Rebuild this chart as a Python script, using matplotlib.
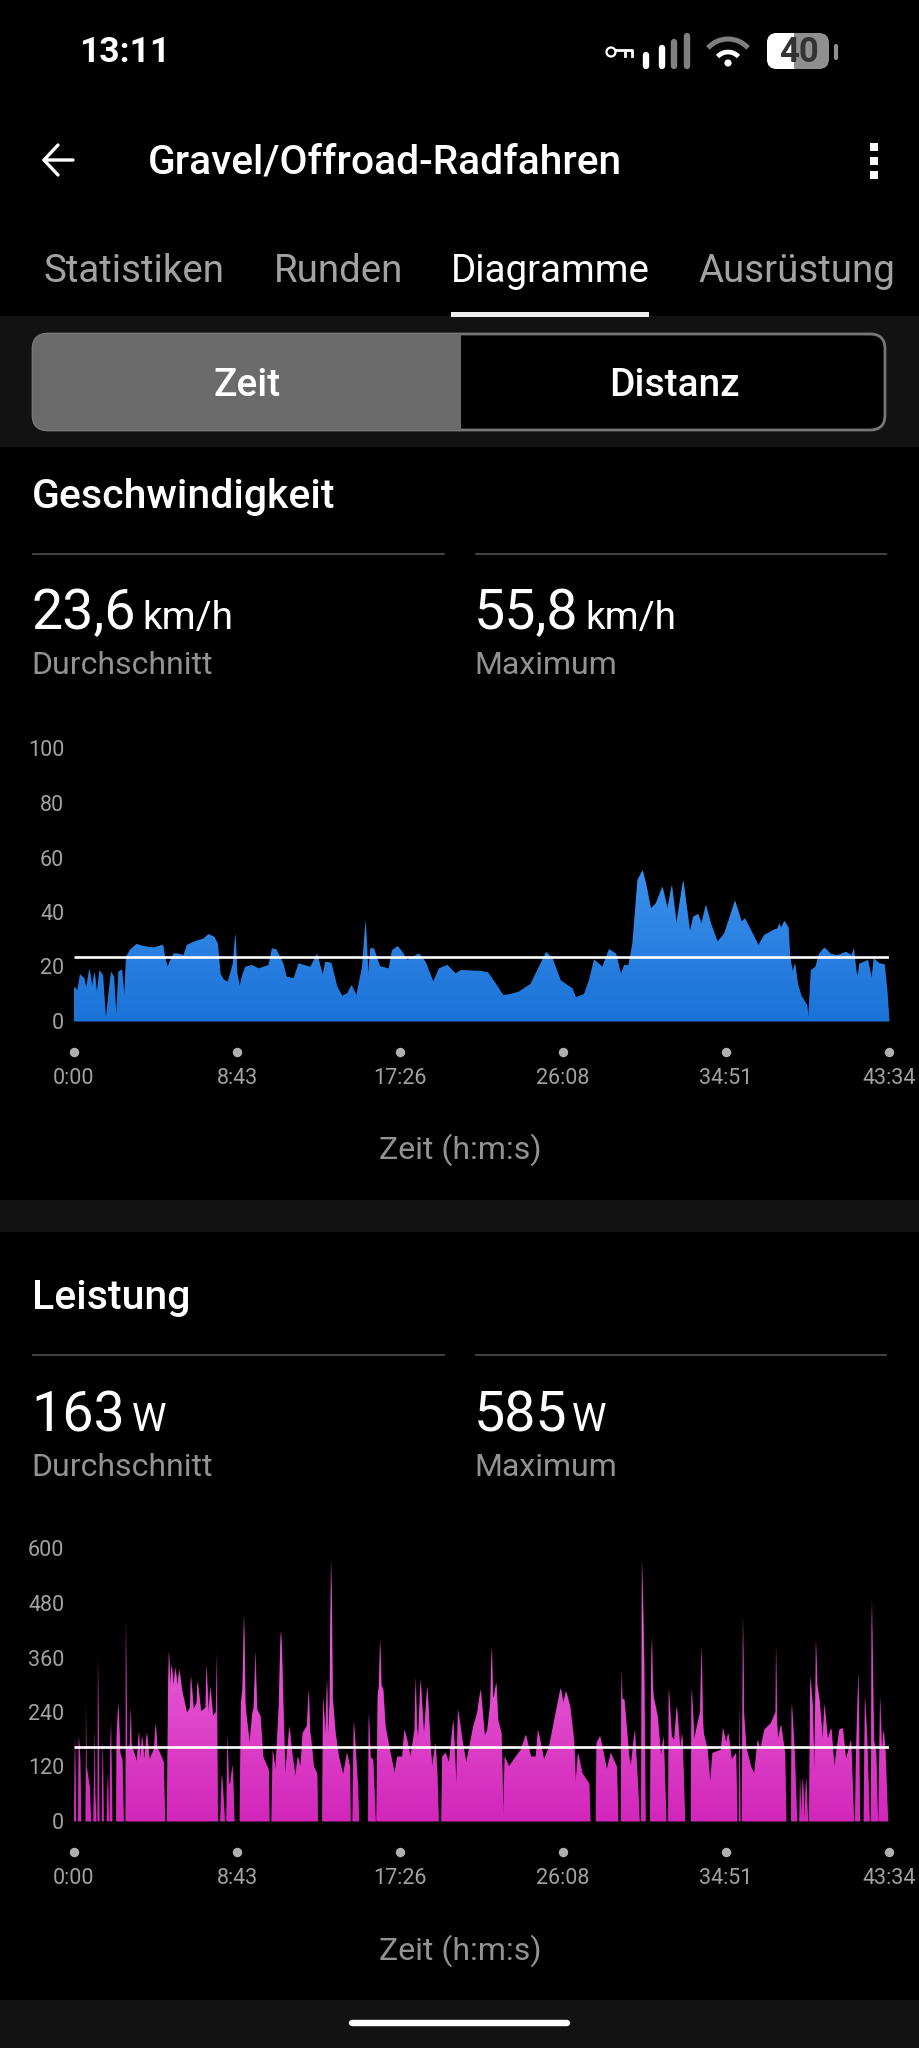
import numpy as np
import matplotlib
matplotlib.use("Agg")
import matplotlib.pyplot as plt
from matplotlib.colors import LinearSegmentedColormap
from matplotlib.patches import FancyBboxPatch, Rectangle, Arc, Circle

plt.rcParams['font.family'] = ['Roboto', 'DejaVu Sans']

# (minutes, km/h)
speed_points = [
    (0, 12.6), (.18, 11.4), (.32, 17.2), (.54, 15.7), (.64, 12), (.82, 19.3), (.96, 12.6), (1.09, 18.1),
    (1.21, 10.2), (1.36, 18.7), (1.53, 16.9), (1.69, .4), (1.84, 10.2), (1.98, 18.1), (2.12, 16.3), (2.25, 1.6),
    (2.37, 18.1), (2.55, 19), (2.68, 8.9), (2.78, 23.6), (3.0, 26.3), (3.35, 28.3), (3.71, 27.5), (4.25, 27),
    (4.75, 28), (4.85, 23.6), (5.0, 19.9), (5.14, 22.4), (5.32, 24.8), (5.53, 24.8), (5.85, 24.2), (6.03, 27.9),
    (6.39, 29.1), (6.92, 30.3), (7.19, 31.9), (7.49, 30.9), (7.67, 28.5), (7.81, 17.5), (7.99, 15.3), (8.21, 14.4),
    (8.35, 17.5), (8.49, 21.2), (8.62, 32.2), (8.71, 17.5), (8.85, 12.8), (8.99, 16.9), (9.15, 19.9), (9.51, 20.6),
    (9.87, 19.3), (10.4, 20.6), (10.58, 26.7), (10.81, 26.3), (11.17, 21.2), (11.35, 16.3), (11.74, 15.7),
    (12.0, 21.2), (12.63, 19.9), (12.99, 24.6), (13.29, 16.9), (13.43, 21.8), (13.74, 21.4), (14.06, 12.6),
    (14.33, 9.2), (14.6, 10.2), (14.83, 13.2), (15.09, 9.5), (15.4, 19.9), (15.58, 37.1), (15.72, 16.9),
    (15.84, 26.7), (16.02, 26.7), (16.34, 20.2), (16.82, 19.3), (17.0, 26), (17.3, 27.5), (17.54, 25.4),
    (17.81, 22.4), (18.43, 24.8), (18.78, 21.8), (19.2, 14.4), (19.5, 19.3), (19.95, 20.6), (20.39, 17.5),
    (20.7, 18.7), (21.37, 18.5), (21.73, 18.4), (22.12, 17.9), (22.53, 13.8), (22.94, 9.5), (23.33, 9.9),
    (23.78, 10.8), (24.4, 13.6), (24.85, 19.9), (25.24, 25.4), (25.57, 23), (26.0, 15), (26.64, 12), (26.82, 8.7),
    (27.26, 9.9), (27.53, 15), (27.8, 22.6), (28.24, 19.9), (28.6, 26.4), (28.96, 24.8), (29.23, 17.2),
    (29.41, 20.6), (29.64, 20.6), (29.85, 28.5), (30.12, 51.7), (30.39, 55.4), (30.57, 50.5), (30.83, 41.3),
    (31.1, 43.2), (31.45, 49.3), (31.72, 41.3), (31.95, 49.9), (32.2, 35.8), (32.56, 51.7), (32.92, 32.8),
    (33.1, 38.3), (33.36, 39.3), (33.54, 35.8), (33.77, 42.6), (34.04, 35.8), (34.4, 29.1), (34.76, 32.2),
    (35.33, 44.2), (35.68, 36.5), (35.86, 37.7), (36.27, 32.2), (36.58, 27.9), (36.9, 31.6), (37.43, 33.6),
    (37.6, 34), (37.7, 35.8), (37.8, 34.2), (37.97, 36.8), (38.18, 34.4), (38.27, 23.6), (38.41, 18.1),
    (38.54, 21.2), (38.68, 13.8), (38.86, 9.5), (39.18, 5.9), (39.25, 1), (39.39, 18.7), (39.63, 19.9),
    (39.84, 24.8), (40.11, 27), (40.47, 24.6), (40.82, 24.2), (41.27, 25.4), (41.57, 24.2), (41.68, 26.7),
    (41.8, 18.7), (41.89, 16.3), (41.98, 21), (42.43, 22.4), (42.64, 15.7), (42.75, 23), (43.05, 21.2),
    (43.32, 20.9), (43.46, 11.4), (43.57, 0),
]

# (minutes, watts), the zeros are the coasting gaps
power_points = [
    (0, 0), (.04, 187), (.09, 0), (.21, 0), (.25, 187), (.32, 135), (.36, 0), (.61, 0), (.63, 120), (.64, 260),
    (.66, 120), (.82, 76), (.89, 0), (1.03, 0), (1.07, 110), (1.09, 201), (1.12, 60), (1.18, 0), (1.25, 0),
    (1.28, 360), (1.34, 0), (1.48, 0), (1.52, 183), (1.57, 0), (1.75, 0), (1.8, 110), (1.84, 0), (1.89, 0),
    (1.96, 220), (2.03, 0), (2.25, 0), (2.27, 179), (2.36, 260), (2.46, 150), (2.57, 135), (2.64, 0), (2.75, 0),
    (2.77, 445), (2.82, 164), (2.93, 157), (2.98, 170), (3.02, 253), (3.06, 170), (3.27, 142), (3.35, 131),
    (3.46, 198), (3.53, 135), (3.64, 187), (3.75, 135), (3.89, 194), (4.03, 135), (4.28, 160), (4.35, 216),
    (4.45, 160), (4.51, 157), (4.78, 131), (4.85, 0), (4.96, 0), (5.03, 297), (5.07, 375), (5.14, 297), (5.21, 345),
    (5.32, 297), (5.41, 338), (5.53, 297), (5.62, 334), (5.76, 290), (6.03, 238), (6.2, 250), (6.24, 319), (6.39, 246),
    (6.55, 260), (6.6, 308), (6.78, 242), (6.92, 246), (7.03, 250), (7.07, 343), (7.19, 235), (7.28, 297), (7.42, 231),
    (7.58, 240), (7.62, 371), (7.67, 0), (7.81, 0), (7.9, 105), (8.05, 0), (8.14, 0), (8.19, 190), (8.26, 83), (8.35, 83),
    (8.47, 124), (8.56, 0), (8.85, 0), (8.92, 260), (9.0, 290), (9.05, 380), (9.08, 456), (9.11, 380), (9.15, 260),
    (9.21, 231), (9.38, 172), (9.53, 238), (9.6, 250), (9.66, 320), (9.69, 375), (9.72, 320), (9.78, 246), (9.96, 231),
    (10.1, 142), (10.4, 113), (10.43, 0), (10.55, 0), (10.62, 157), (10.76, 113), (10.87, 194), (10.95, 260), (11.0, 350),
    (11.05, 419), (11.1, 380), (11.18, 253), (11.28, 102), (11.51, 209), (11.65, 150), (11.83, 98), (11.95, 142),
    (12.1, 120), (12.22, 194), (12.45, 210), (12.54, 290), (12.6, 200), (12.67, 179), (12.81, 120), (12.99, 105),
    (13.02, 0), (13.26, 0), (13.31, 275), (13.43, 187), (13.52, 312), (13.57, 180), (13.66, 260), (13.7, 430),
    (13.74, 577), (13.78, 430), (13.82, 270), (13.97, 194), (14.15, 142), (14.38, 102), (14.59, 150), (14.74, 120),
    (14.77, 0), (14.88, 0), (14.95, 220), (15.04, 164), (15.17, 72), (15.22, 0), (15.72, 0), (15.75, 238), (15.84, 142),
    (15.98, 135), (16.11, 0), (16.16, 0), (16.23, 275), (16.3, 300), (16.36, 400), (16.42, 300), (16.52, 290),
    (16.64, 209), (16.91, 150), (17.13, 105), (17.27, 142), (17.54, 142), (17.66, 201), (17.8, 179), (17.98, 142),
    (18.2, 200), (18.25, 316), (18.32, 210), (18.39, 179), (18.52, 312), (18.7, 187), (18.88, 297), (19.05, 164),
    (19.14, 120), (19.32, 172), (19.41, 105), (19.48, 0), (19.63, 0), (19.68, 142), (19.86, 150), (20.04, 128),
    (20.27, 223), (20.43, 76), (20.52, 246), (20.75, 179), (20.96, 128), (21.34, 209), (21.55, 238), (21.73, 290),
    (21.95, 187), (22.09, 201), (22.25, 260), (22.32, 386), (22.39, 270), (22.45, 275), (22.57, 305), (22.66, 223),
    (22.84, 194), (22.94, 10), (23.02, 142), (23.25, 120), (23.61, 142), (23.88, 157), (24.15, 190), (24.42, 142),
    (24.68, 142), (24.8, 201), (25.12, 135), (25.39, 164), (26.01, 293), (26.15, 260), (26.3, 286), (26.51, 253),
    (26.72, 179), (26.81, 83), (26.94, 150), (27.17, 105), (27.53, 83), (27.59, 0), (27.89, 0), (27.93, 172), (28.12, 187),
    (28.48, 113), (28.69, 150), (29.01, 120), (29.08, 0), (29.23, 0), (29.26, 334), (29.3, 270), (29.41, 268), (29.67, 142),
    (29.76, 120), (29.97, 201), (30.15, 69), (30.22, 0), (30.31, 0), (30.36, 577), (30.47, 349), (30.54, 0), (30.79, 0),
    (30.84, 280), (30.88, 408), (30.93, 300), (30.97, 275), (31.19, 231), (31.37, 142), (31.51, 187), (31.65, 0),
    (31.76, 0), (31.79, 293), (31.94, 187), (32.08, 179), (32.22, 253), (32.4, 157), (32.51, 194), (32.65, 0), (32.97, 0),
    (33.01, 293), (33.15, 179), (33.33, 216), (33.47, 240), (33.54, 386), (33.6, 230), (33.65, 194), (33.86, 157),
    (34.0, 83), (34.13, 150), (34.58, 157), (34.69, 205), (34.85, 172), (34.97, 194), (35.15, 135), (35.38, 150),
    (35.44, 0), (35.54, 0), (35.56, 260), (35.61, 0), (35.7, 0), (35.73, 250), (35.76, 456), (35.8, 240), (35.92, 164),
    (36.18, 120), (36.36, 105), (36.54, 179), (36.68, 157), (36.9, 201), (37.26, 216), (37.5, 240), (37.53, 386),
    (37.57, 220), (37.62, 179), (37.79, 212), (38.0, 150), (38.06, 0), (38.33, 0), (38.36, 260), (38.5, 164), (38.64, 0),
    (38.77, 0), (38.81, 98), (38.86, 0), (38.95, 98), (39.04, 0), (39.13, 98), (39.22, 0), (39.29, 0), (39.36, 319),
    (39.48, 253), (39.57, 105), (39.63, 280), (39.66, 400), (39.72, 300), (39.84, 268), (40.02, 179), (40.11, 257),
    (40.29, 179), (40.47, 205), (40.64, 120), (40.91, 201), (41.09, 205), (41.26, 135), (41.53, 179), (41.68, 0),
    (41.75, 0), (41.8, 150), (41.93, 327), (42.0, 0), (42.21, 0), (42.28, 275), (42.39, 179), (42.52, 0), (42.6, 0),
    (42.64, 489), (42.75, 179), (42.87, 150), (42.96, 0), (43.0, 0), (43.09, 275), (43.18, 150), (43.28, 201), (43.37, 150),
    (43.5, 0), (43.55, 0),
]

speed_avg = 23.6
power_avg = 163
speed_ticks = [0, 20, 40, 60, 80, 100]
power_ticks = [0, 120, 240, 360, 480, 600]
time_ticks_s = [0, 523, 1046, 1568, 2091, 2614]
time_labels = ['0:00', '8:43', '17:26', '26:08', '34:51', '43:34']

W, H = 920, 2048
GREY = '#a2a2a2'
DIM = '#929292'
PANEL = '#121212'

fig = plt.figure(figsize=(W / 100, H / 100), dpi=100, facecolor='black')
ui = fig.add_axes([0, 0, 1, 1])
ui.set_xlim(0, W)
ui.set_ylim(H, 0)
ui.axis('off')


def label(x, y, s, size, color='white', weight='normal', ha='left', va='center', **kw):
    return ui.text(x, y, s, fontsize=size, color=color, fontweight=weight, ha=ha, va=va, **kw)


# background bands
ui.add_patch(Rectangle((0, 316), W, 131, color=PANEL, lw=0))
ui.add_patch(Rectangle((0, 1200), W, 32, color=PANEL, lw=0))
ui.add_patch(Rectangle((0, 2000), W, 48, color=PANEL, lw=0))

# status bar
label(79, 52, '13:11', 25.5, weight='bold')
ui.add_patch(Circle((611, 52), 4.5, fill=False, ec='white', lw=1.6))
ui.plot([616, 632, 632], [50, 50, 56], color='white', lw=2)
ui.plot([625, 625], [50, 56], color='white', lw=2)
for x, top, col in [(646, 55, 'white'), (662, 48, 'white'), (674, 42, '#808080'), (687, 36, '#808080')]:
    ui.plot([x, x], [top, 66], color=col, lw=4.6, solid_capstyle='round')
ui.add_patch(Circle((728, 63), 3.6, color='white', lw=0))
ui.add_patch(Arc((728, 66), 28, 28, theta1=222, theta2=318, color='white', lw=3.4))
ui.add_patch(Arc((728, 66), 54, 54, theta1=222, theta2=318, color='#808080', lw=3.6))
batt = FancyBboxPatch((767, 33), 62, 36, boxstyle='round,pad=0,rounding_size=10', fc='#8f8f8f', lw=0)
ui.add_patch(batt)
white_part = Rectangle((767, 33), 27, 36, color='white', lw=0)
ui.add_patch(white_part)
white_part.set_clip_path(batt)
ui.plot([836.5, 836.5], [46, 58], color='#8f8f8f', lw=3, solid_capstyle='round')
label(799, 52, '40', 25, color='#333333', weight='bold', ha='center')

# header
ui.plot([73, 44, 58], [160, 160, 145], color='white', lw=2.4, solid_capstyle='round')
ui.plot([44, 58], [160, 175], color='white', lw=2.4, solid_capstyle='round')
for y in [147, 161, 175]:
    ui.add_patch(Rectangle((870, y - 4), 8, 8, color='white', lw=0))
label(148, 163, 'Gravel/Offroad-Radfahren', 29.3, weight='medium')
label(44, 271, 'Statistiken', 27.7, color=GREY)
label(274, 271, 'Runden', 27.7, color=GREY)
label(451, 271, 'Diagramme', 27.7)
label(699, 271, 'Ausrüstung', 27.7, color=GREY)
ui.add_patch(Rectangle((451, 312), 198, 4.5, color='#eeeeee', lw=0))

# Zeit / Distanz toggle
box = FancyBboxPatch((33, 334), 852, 96, boxstyle='round,pad=0,rounding_size=15', fc='black', ec='#777777', lw=2)
ui.add_patch(box)
left = Rectangle((33, 334), 428, 96, color='#6b6b6b', lw=0)
ui.add_patch(left)
left.set_clip_path(box)
label(247, 385, 'Zeit', 28, weight='medium', ha='center')
label(674, 385, 'Distanz', 28, weight='medium', ha='center')


def header(title, title_y, line_y, val_y, sub_y, val1, unit1, unit1_x, val2, unit2, unit2_x):
    label(32, title_y, title, 29.5, weight='medium')
    ui.plot([33, 444], [line_y, line_y], color='#4a4a4a', lw=1.3)
    ui.plot([476, 886], [line_y, line_y], color='#4a4a4a', lw=1.3)
    label(31, val_y, val1, 40, va='baseline')
    label(unit1_x, val_y, unit1, 28, va='baseline')
    label(474, val_y, val2, 40, va='baseline')
    label(unit2_x, val_y, unit2, 28, va='baseline')
    label(31, sub_y, 'Durchschnitt', 23, color=DIM)
    label(474, sub_y, 'Maximum', 23, color=DIM)


def chart(points, avg, yticks, base_px, top_colour, bottom_colour):
    t, v = map(np.array, zip(*points))
    ax = fig.add_axes([74 / W, 1 - base_px / H, 815 / W, 272.5 / H])
    ax.patch.set_alpha(0)
    for s in ax.spines.values():
        s.set_visible(False)
    poly = ax.fill_between(t, v, color=bottom_colour, lw=0, zorder=1)
    cmap = LinearSegmentedColormap.from_list('fade', [bottom_colour, top_colour])
    im = ax.imshow(np.linspace(0, 1, 256)[:, None], origin='lower', cmap=cmap, aspect='auto',
                   extent=[0, 43.57, 0, v.max()], interpolation='bilinear', zorder=2)
    im.set_clip_path(poly.get_paths()[0], ax.transData)
    ax.plot([0, 43.57], [avg, avg], color='white', lw=1.9, solid_capstyle='butt', zorder=3)
    ax.set_xlim(0, 43.57)
    ax.set_ylim(0, yticks[-1])
    xt = [s / 60 for s in time_ticks_s]
    ax.set_xticks(xt, time_labels)
    ax.set_yticks(yticks)
    ax.tick_params(length=0, colors=GREY, labelsize=15.5)
    ax.tick_params(axis='x', pad=34)
    ax.tick_params(axis='y', pad=7)
    # the grey dots above the time labels
    ax.plot(xt, [-31 / 272.5] * len(xt), 'o', ms=6.8, color='#b0b0b0', mew=0,
            transform=ax.get_xaxis_transform(), clip_on=False)
    return ax


header('Geschwindigkeit', 497, 554, 629, 666, '23,6', 'km/h', 142, '55,8', 'km/h', 585)
chart(speed_points, speed_avg, speed_ticks, 1021, '#3c90ea', '#1b73d8')
label(460, 1150, 'Zeit (h:m:s)', 23, color=DIM, ha='center')

header('Leistung', 1298, 1355, 1431, 1467, '163', 'W', 132, '585', 'W', 572)
chart(power_points, power_avg, power_ticks, 1821, '#f07ae0', '#d326bb')
label(460, 1951, 'Zeit (h:m:s)', 23, color=DIM, ha='center')

# home bar
ui.plot([352, 567], [2023, 2023], color='white', lw=4.6, solid_capstyle='round')

fig.savefig('out.png', dpi=100, facecolor='black')
